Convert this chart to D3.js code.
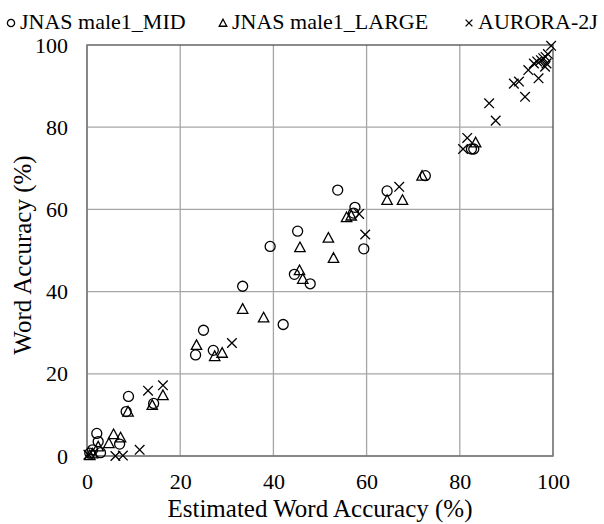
<!DOCTYPE html>
<html><head><meta charset="utf-8">
<script src="https://cdn.jsdelivr.net/npm/d3@7"></script>
<style>html,body{margin:0;padding:0;background:#fff;}svg{display:block;}</style>
</head><body>
<script>
const ticks = [0, 20, 40, 60, 80, 100];
const seriesNames = ["JNAS male1_MID", "JNAS male1_LARGE", "AURORA-2J"];
const midX = [0.6,1.2,2.9,2.1,2.4,7.0,8.4,8.9,14.3,23.3,25.0,27.1,33.4,39.3,42.1,44.5,45.2,47.9,53.8,57.2,57.5,59.4,64.4,72.6,82.5,83.0];
const midY = [0.7,1.5,0.8,5.5,3.5,2.9,10.8,14.5,12.8,24.6,30.6,25.7,41.3,51.0,32.0,44.2,54.7,41.9,64.7,59.1,60.5,50.4,64.5,68.2,74.7,74.7];
const largeX = [0.6,1.2,2.4,4.7,5.7,7.2,8.8,14.0,16.3,23.5,27.4,29.0,33.4,37.9,45.6,45.7,46.3,51.8,52.9,55.7,56.7,64.4,67.7,71.9,83.4];
const largeY = [0.2,0.6,2.3,3.1,5.3,4.5,10.8,12.4,14.8,27.0,24.3,25.1,35.8,33.7,45.2,50.8,43.1,53.1,48.2,58.1,58.5,62.3,62.3,68.2,76.3];
const auroraX = [0.3,6.1,7.7,11.3,13.1,16.3,31.1,58.4,59.7,67.0,80.7,81.6,86.3,87.7,91.6,92.7,94.0,94.7,95.9,96.6,96.9,97.4,97.9,98.3,98.4,98.6,98.9,99.6];
const auroraY = [0.3,0.0,0.1,1.5,15.9,17.2,27.5,58.9,53.9,65.5,74.7,77.4,85.8,81.6,90.6,91.1,87.4,93.9,95.5,96.0,91.9,96.3,96.8,94.7,97.1,95.5,97.8,99.8];

const W = 604, H = 524;
const FONT = '"Liberation Serif", Tinos, "Times New Roman", serif';
const svg = d3.select("body").append("svg").attr("width", W).attr("height", H);
const x = d3.scaleLinear().domain([0, 100]).range([87, 553]);
const y = d3.scaleLinear().domain([0, 100]).range([456, 45]);

// gridlines
const grid = svg.append("g");
grid.selectAll("line.v").data(ticks.slice(1, -1)).join("line")
  .attr("x1", d => x(d)).attr("x2", d => x(d)).attr("y1", y(0)).attr("y2", y(100))
  .attr("stroke", "#a6a6a6").attr("stroke-width", 1.3);
grid.selectAll("line.h").data(ticks.slice(1, -1)).join("line")
  .attr("y1", d => y(d)).attr("y2", d => y(d)).attr("x1", x(0)).attr("x2", x(100))
  .attr("stroke", "#a6a6a6").attr("stroke-width", 1.3);

// border
svg.append("rect").attr("x", x(0)).attr("y", y(100)).attr("width", x(100) - x(0)).attr("height", y(0) - y(100))
  .attr("fill", "none").attr("stroke", "#4d4d4d").attr("stroke-width", 1.3);
svg.append("line").attr("x1", x(0)).attr("x2", x(0)).attr("y1", y(0)).attr("y2", y(100)).attr("stroke", "#868686").attr("stroke-width", 1.5);
svg.append("line").attr("x1", x(0)).attr("x2", x(100)).attr("y1", y(0)).attr("y2", y(0)).attr("stroke", "#868686").attr("stroke-width", 1.5);

// axes
const xAxis = svg.append("g").attr("transform", `translate(0,${y(0)})`)
  .call(d3.axisBottom(x).tickValues(ticks).tickSize(0).tickPadding(17));
const yAxis = svg.append("g").attr("transform", `translate(${x(0)},0)`)
  .call(d3.axisLeft(y).tickValues(ticks).tickSize(0).tickPadding(19));
[xAxis, yAxis].forEach(a => {
  a.select(".domain").remove();
  a.selectAll("text").style("font-family", FONT).style("font-size", "22px").attr("fill", "#000");
});

// titles
svg.append("text").attr("x", (x(0) + x(100)) / 2).attr("y", 517).attr("text-anchor", "middle")
  .style("font-family", FONT).style("font-size", "25px").attr("fill", "#000").text("Estimated Word Accuracy (%)");
svg.append("text").attr("transform", `translate(31,255) rotate(-90)`).attr("text-anchor", "middle")
  .style("font-family", FONT).style("font-size", "25px").attr("fill", "#000").text("Word Accuracy (%)");

// markers
function circle(g, r) { g.append("circle").attr("r", r).attr("fill", "none").attr("stroke", "#000").attr("stroke-width", 1.3); }
function tri(g, s) { g.append("path").attr("d", `M0,${-s}L${s},${s*0.85}L${-s},${s*0.85}Z`).attr("fill", "none").attr("stroke", "#000").attr("stroke-width", 1.3); }
function cross(g, s) { g.append("path").attr("d", `M${-s},${-s}L${s},${s}M${-s},${s}L${s},${-s}`).attr("fill", "none").attr("stroke", "#000").attr("stroke-width", 1.3); }

const plot = svg.append("g");
const mk = (xs, ys) => xs.map((v, i) => [v, ys[i]]);
plot.selectAll("g.mid").data(mk(midX, midY)).join("g").attr("transform", d => `translate(${x(d[0])},${y(d[1])})`).each(function () { circle(d3.select(this), 5); });
plot.selectAll("g.lg").data(mk(largeX, largeY)).join("g").attr("transform", d => `translate(${x(d[0])},${y(d[1])})`).each(function () { tri(d3.select(this), 5.2); });
plot.selectAll("g.au").data(mk(auroraX, auroraY)).join("g").attr("transform", d => `translate(${x(d[0])},${y(d[1])})`).each(function () { cross(d3.select(this), 4.8); });

// legend
const legX = [11, 223, 469];
const legend = svg.append("g");
seriesNames.forEach((name, i) => {
  const g = legend.append("g").attr("transform", `translate(${legX[i]},23)`);
  if (i === 0) circle(g, 3.6);
  else if (i === 1) tri(g, 3.8);
  else cross(g, 3.4);
  g.append("text").attr("x", 9).attr("y", 6).style("font-family", FONT).style("font-size", "22px").attr("fill", "#000").text(name);
});
</script>
</body></html>
